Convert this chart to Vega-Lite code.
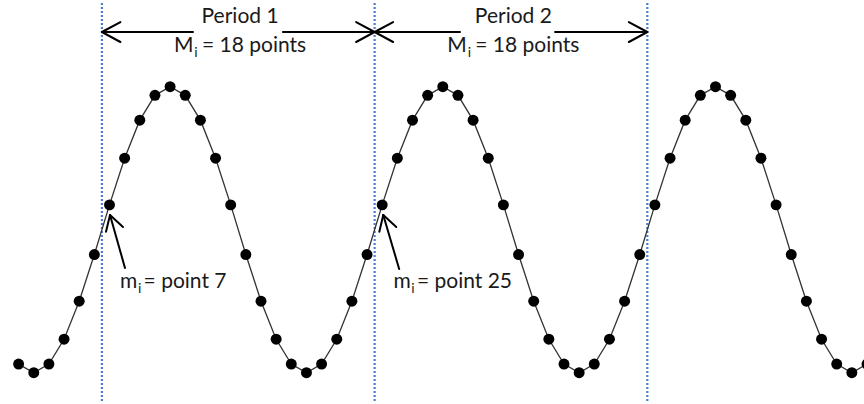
{
  "$schema": "https://vega.github.io/schema/vega-lite/v6.json",
  "width": 864,
  "height": 404,
  "autosize": {"type": "fit", "contains": "padding"},
  "padding": 0,
  "background": "white",
  "config": {"view": {"stroke": null}},
  "datasets": {
    "pts": [
      {"n": 1, "v": -0.9397}, {"n": 2, "v": -1}, {"n": 3, "v": -0.9397}, {"n": 4, "v": -0.766},
      {"n": 5, "v": -0.5}, {"n": 6, "v": -0.1736}, {"n": 7, "v": 0.1736}, {"n": 8, "v": 0.5},
      {"n": 9, "v": 0.766}, {"n": 10, "v": 0.9397}, {"n": 11, "v": 1}, {"n": 12, "v": 0.9397},
      {"n": 13, "v": 0.766}, {"n": 14, "v": 0.5}, {"n": 15, "v": 0.1736}, {"n": 16, "v": -0.1736},
      {"n": 17, "v": -0.5}, {"n": 18, "v": -0.766}, {"n": 19, "v": -0.9397}, {"n": 20, "v": -1},
      {"n": 21, "v": -0.9397}, {"n": 22, "v": -0.766}, {"n": 23, "v": -0.5}, {"n": 24, "v": -0.1736},
      {"n": 25, "v": 0.1736}, {"n": 26, "v": 0.5}, {"n": 27, "v": 0.766}, {"n": 28, "v": 0.9397},
      {"n": 29, "v": 1}, {"n": 30, "v": 0.9397}, {"n": 31, "v": 0.766}, {"n": 32, "v": 0.5},
      {"n": 33, "v": 0.1736}, {"n": 34, "v": -0.1736}, {"n": 35, "v": -0.5}, {"n": 36, "v": -0.766},
      {"n": 37, "v": -0.9397}, {"n": 38, "v": -1}, {"n": 39, "v": -0.9397}, {"n": 40, "v": -0.766},
      {"n": 41, "v": -0.5}, {"n": 42, "v": -0.1736}, {"n": 43, "v": 0.1736}, {"n": 44, "v": 0.5},
      {"n": 45, "v": 0.766}, {"n": 46, "v": 0.9397}, {"n": 47, "v": 1}, {"n": 48, "v": 0.9397},
      {"n": 49, "v": 0.766}, {"n": 50, "v": 0.5}, {"n": 51, "v": 0.1736}, {"n": 52, "v": -0.1736},
      {"n": 53, "v": -0.5}, {"n": 54, "v": -0.766}, {"n": 55, "v": -0.9397}, {"n": 56, "v": -1},
      {"n": 57, "v": -0.9397}
    ],
    "vlines": [
      {"x": 6.5, "y": 1.585, "y2": -1.205},
      {"x": 24.5, "y": 1.585, "y2": -1.205},
      {"x": 42.5, "y": 1.585, "y2": -1.205}
    ],
    "segs": [
      {"x": 6.5, "y": 1.3825, "x2": 12.51, "y2": 1.3825},
      {"x": 18.45, "y": 1.3825, "x2": 24.5, "y2": 1.3825},
      {"x": 6.5, "y": 1.3825, "x2": 7.72, "y2": 1.4524},
      {"x": 6.5, "y": 1.3825, "x2": 7.72, "y2": 1.3126},
      {"x": 24.5, "y": 1.3825, "x2": 23.28, "y2": 1.4524},
      {"x": 24.5, "y": 1.3825, "x2": 23.28, "y2": 1.3126},
      {"x": 24.5, "y": 1.3825, "x2": 30.135, "y2": 1.3825},
      {"x": 36.41, "y": 1.3825, "x2": 42.5, "y2": 1.3825},
      {"x": 24.5, "y": 1.3825, "x2": 25.72, "y2": 1.4524},
      {"x": 24.5, "y": 1.3825, "x2": 25.72, "y2": 1.3126},
      {"x": 42.5, "y": 1.3825, "x2": 41.28, "y2": 1.4524},
      {"x": 42.5, "y": 1.3825, "x2": 41.28, "y2": 1.3126},
      {"x": 7.033, "y": 0.1028, "x2": 8.023, "y2": -0.2678},
      {"x": 7.033, "y": 0.1028, "x2": 6.769, "y2": -0.014},
      {"x": 7.033, "y": 0.1028, "x2": 7.889, "y2": 0.0189},
      {"x": 25.07, "y": 0.1028, "x2": 26.12, "y2": -0.275},
      {"x": 25.07, "y": 0.1028, "x2": 24.81, "y2": -0.014},
      {"x": 25.07, "y": 0.1028, "x2": 25.93, "y2": 0.0189}
    ],
    "titles": [
      {"x": 15.62, "y": 1.4434, "t": "Period 1"},
      {"x": 33.66, "y": 1.4434, "t": "Period 2"}
    ],
    "texts": [
      {"x": 11.25, "y": 1.2427, "t": "M"},
      {"x": 13.1, "y": 1.2427, "t": "= 18 points"},
      {"x": 29.29, "y": 1.2427, "t": "M"},
      {"x": 31.14, "y": 1.2427, "t": "= 18 points"},
      {"x": 7.7, "y": -0.4077, "t": "m"},
      {"x": 9.25, "y": -0.4077, "t": "= point 7"},
      {"x": 25.74, "y": -0.4077, "t": "m"},
      {"x": 27.29, "y": -0.4077, "t": "= point 25"}
    ],
    "subs": [
      {"x": 12.6, "y": 1.2077, "t": "i"},
      {"x": 30.64, "y": 1.2077, "t": "i"},
      {"x": 8.88, "y": -0.4427, "t": "i"},
      {"x": 26.92, "y": -0.4427, "t": "i"}
    ]
  },
  "layer": [
    {
      "data": {"name": "vlines"},
      "mark": {"type": "rule", "color": "#4a7fc8", "strokeWidth": 2.2, "strokeDash": [2, 2]},
      "encoding": {
        "x": {"field": "x", "type": "quantitative", "scale": {"domain": [-0.2277, 56.802], "nice": false, "zero": false}, "axis": null},
        "y": {"field": "y", "type": "quantitative", "scale": {"domain": [-1.2189, 1.6063], "nice": false, "zero": false}, "axis": null},
        "y2": {"field": "y2"}
      }
    },
    {
      "data": {"name": "pts"},
      "mark": {"type": "line", "color": "#333333", "strokeWidth": 1.3, "clip": true},
      "encoding": {
        "x": {"field": "n", "type": "quantitative"},
        "y": {"field": "v", "type": "quantitative"}
      }
    },
    {
      "data": {"name": "pts"},
      "mark": {"type": "point", "filled": true, "color": "black", "opacity": 1, "size": 120, "clip": true},
      "encoding": {
        "x": {"field": "n", "type": "quantitative"},
        "y": {"field": "v", "type": "quantitative"}
      }
    },
    {
      "data": {"name": "segs"},
      "mark": {"type": "rule", "color": "black", "strokeWidth": 2, "strokeCap": "round"},
      "encoding": {
        "x": {"field": "x", "type": "quantitative"},
        "y": {"field": "y", "type": "quantitative"},
        "x2": {"field": "x2"},
        "y2": {"field": "y2"}
      }
    },
    {
      "data": {"name": "titles"},
      "mark": {"type": "text", "font": "Lato", "fontSize": 21, "align": "center", "baseline": "alphabetic", "color": "#1a1a1a"},
      "encoding": {
        "x": {"field": "x", "type": "quantitative"},
        "y": {"field": "y", "type": "quantitative"},
        "text": {"field": "t"}
      }
    },
    {
      "data": {"name": "texts"},
      "mark": {"type": "text", "font": "Lato", "fontSize": 21, "align": "left", "baseline": "alphabetic", "color": "#1a1a1a"},
      "encoding": {
        "x": {"field": "x", "type": "quantitative"},
        "y": {"field": "y", "type": "quantitative"},
        "text": {"field": "t"}
      }
    },
    {
      "data": {"name": "subs"},
      "mark": {"type": "text", "font": "Lato", "fontSize": 14, "align": "left", "baseline": "alphabetic", "color": "#1a1a1a"},
      "encoding": {
        "x": {"field": "x", "type": "quantitative"},
        "y": {"field": "y", "type": "quantitative"},
        "text": {"field": "t"}
      }
    }
  ]
}
